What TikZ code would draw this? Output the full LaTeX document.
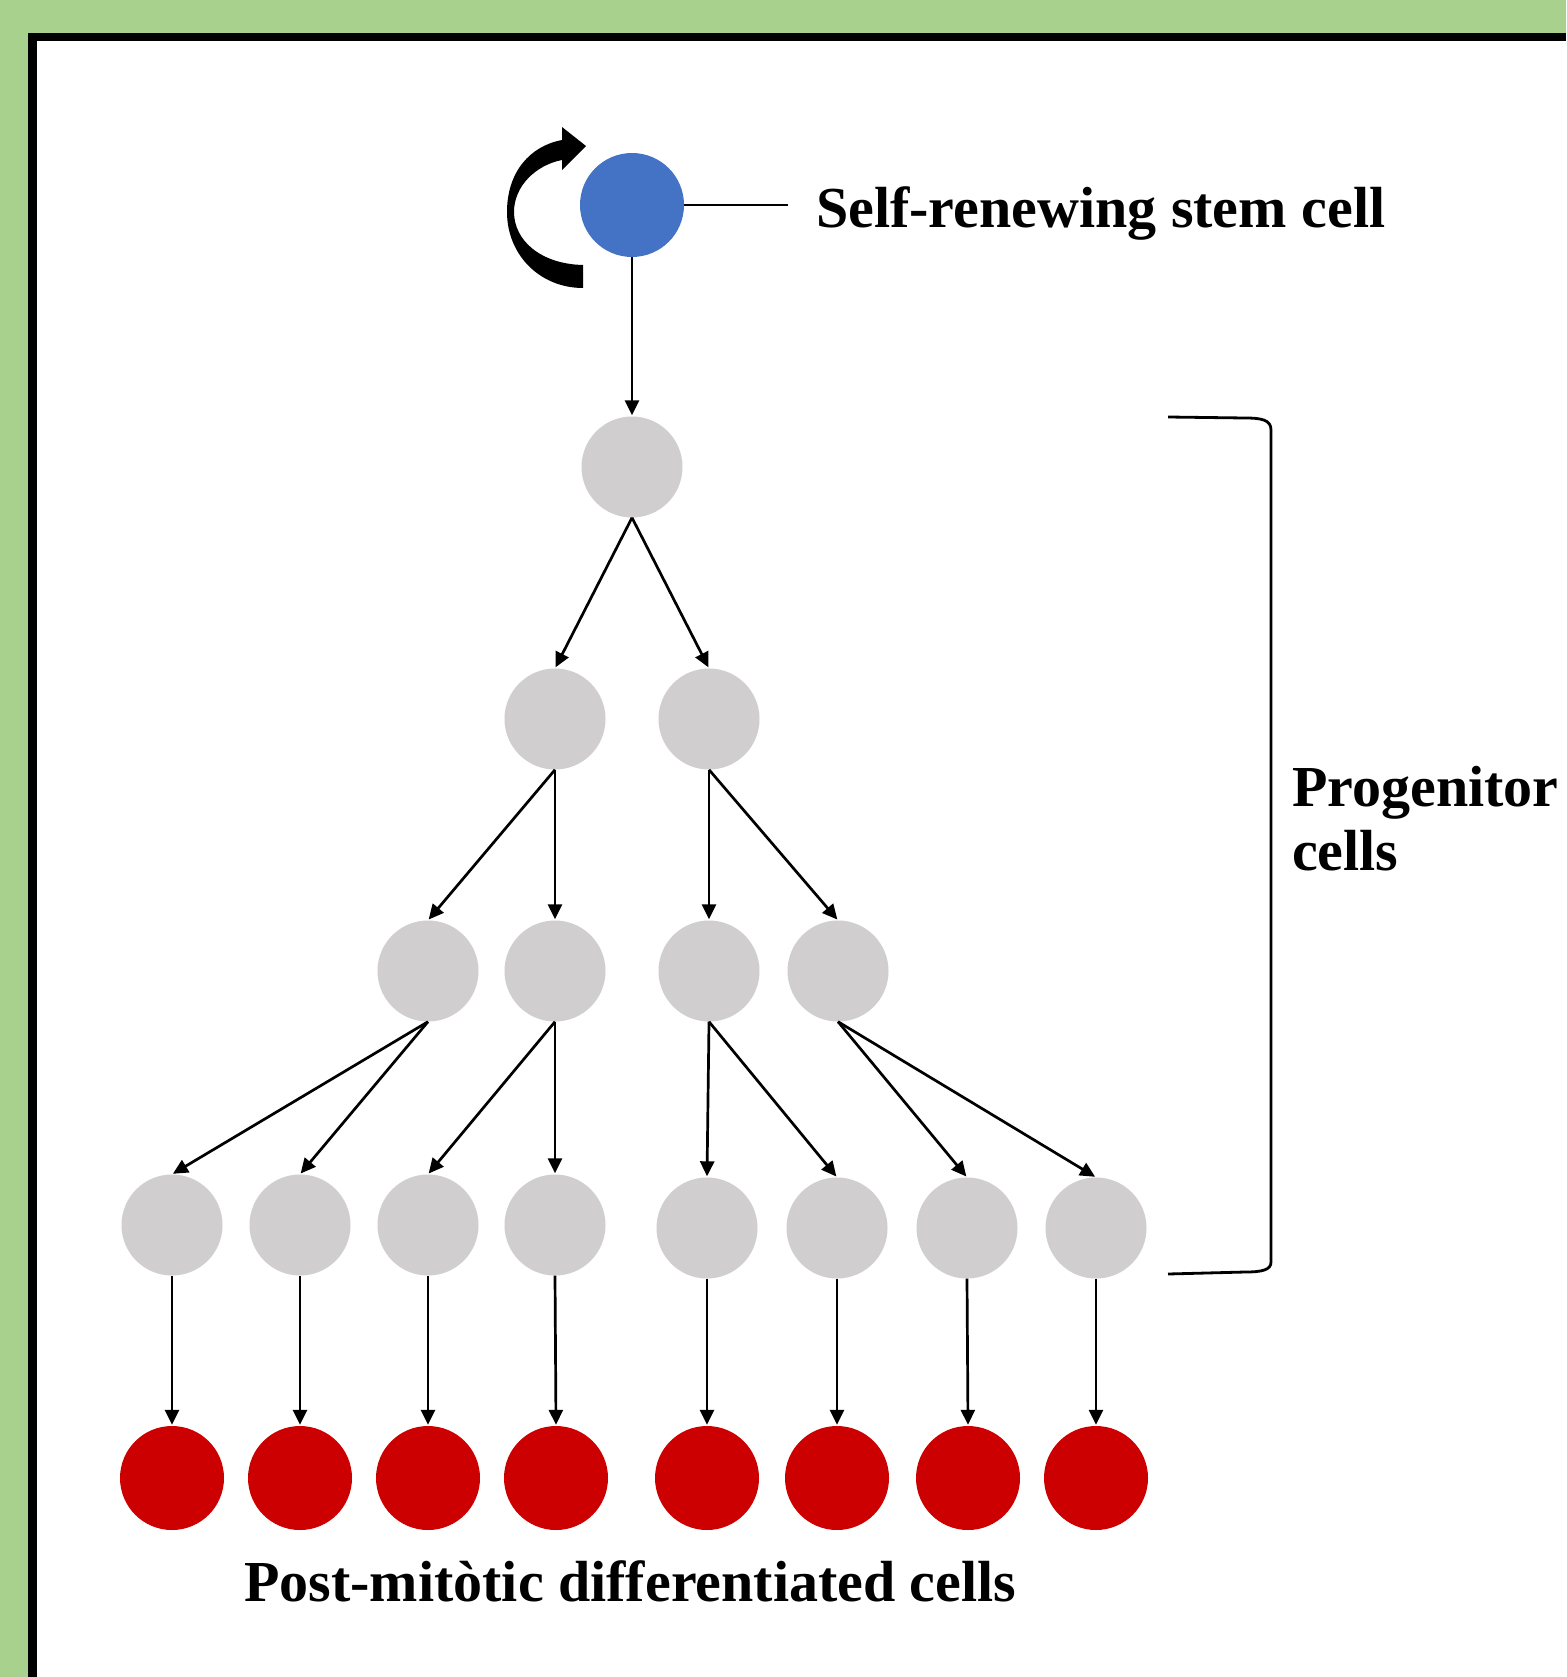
\documentclass[tikz,border=0pt]{standalone}
\usepackage{fontspec}
\setmainfont{Liberation Serif}
\usetikzlibrary{arrows.meta}
\definecolor{bggreen}{HTML}{A9D18E}
\definecolor{stemblue}{HTML}{4472C4}
\definecolor{cellgray}{HTML}{D0CECE}
\definecolor{cellred}{HTML}{CC0000}

\begin{document}
\begin{tikzpicture}[x=1pt,y=-1pt,
  cell/.style={circle,inner sep=0pt,minimum size=101pt},
  prog/.style={cell,fill=cellgray},
  diff/.style={cell,fill=cellred,minimum size=104pt},
  link/.style={line width=2.7pt,-{Triangle[length=15pt,width=14pt]},shorten >=1pt},
  lbl/.style={font=\fontsize{58}{66}\selectfont\bfseries,inner sep=0pt,anchor=base west}]
  \useasboundingbox (0,0) rectangle (1566,1677);
  % background and frame
  \fill[bggreen] (0,0) rectangle (1566,1677);
  \fill[white] (32.5,37) rectangle (1566,1677);
  \draw[line width=8.5pt] (32.5,1677) -- (32.5,37) -- (1566,37);

  % stem cell
  \node[cell,fill=stemblue,minimum size=104pt] (stem) at (632,205) {};
  % progenitor levels
  \node[prog] (p1) at (632,467) {};
  \node[prog] (p2a) at (555,719) {};
  \node[prog] (p2b) at (709,719) {};
  \node[prog] (p3a) at (428,971) {};
  \node[prog] (p3b) at (555,971) {};
  \node[prog] (p3c) at (709,971) {};
  \node[prog] (p3d) at (838,971) {};
  \node[prog] (p4a) at (172,1225) {};
  \node[prog] (p4b) at (300,1225) {};
  \node[prog] (p4c) at (428,1225) {};
  \node[prog] (p4d) at (555,1225) {};
  \node[prog] (p4e) at (707,1228) {};
  \node[prog] (p4f) at (837,1228) {};
  \node[prog] (p4g) at (967,1228) {};
  \node[prog] (p4h) at (1096,1228) {};
  % differentiated cells
  \node[diff] (da) at (172,1478) {};
  \node[diff] (db) at (300,1478) {};
  \node[diff] (dc) at (428,1478) {};
  \node[diff] (dd) at (556,1478) {};
  \node[diff] (de) at (707,1478) {};
  \node[diff] (df) at (837,1478) {};
  \node[diff] (dg) at (968,1478) {};
  \node[diff] (dh) at (1096,1478) {};

  % lineage arrows
  \draw[link] (stem.south) -- (p1.north);
  \draw[link] (p1.south) -- (p2a.north);
  \draw[link] (p1.south) -- (p2b.north);
  \draw[link] (p2a.south) -- (p3a.north);
  \draw[link] (p2a.south) -- (p3b.north);
  \draw[link] (p2b.south) -- (p3c.north);
  \draw[link] (p2b.south) -- (p3d.north);
  \draw[link] (p3a.south) -- (p4a.north);
  \draw[link] (p3a.south) -- (p4b.north);
  \draw[link] (p3b.south) -- (p4c.north);
  \draw[link] (p3b.south) -- (p4d.north);
  \draw[link] (p3c.south) -- (p4e.north);
  \draw[link] (p3c.south) -- (p4f.north);
  \draw[link] (p3d.south) -- (p4g.north);
  \draw[link] (p3d.south) -- (p4h.north);
  \foreach \g/\d in {p4a/da,p4b/db,p4c/dc,p4d/dd,p4e/de,p4f/df,p4g/dg,p4h/dh}
    \draw[link] (\g.south) -- (\d.north);

  % self-renewal curved arrow
  \fill (583,288) .. controls (540,288) and (507,255) .. (507,212)
        .. controls (507,172) and (530,146) .. (562,140)
        -- (562,127) -- (586,146) -- (562,170) -- (562,160)
        .. controls (536,165) and (514,186) .. (514,212)
        .. controls (514,240) and (540,264) .. (583,265) -- cycle;

  % labels
  \coordinate (tick) at (788,205);
  \draw[line width=2.7pt] (stem.east) -- (tick);
  \node[lbl] (stemlbl) at (816,228) {Self-renewing stem cell};
  \node[lbl] (proglbl) at (1292,806) {Progenitor};
  \node[lbl] (proglbltwo) at (1292,870) {cells};
  \node[lbl] (difflbl) at (244,1601) {Post-mitòtic differentiated cells};

  % bracket around progenitor levels
  \draw[line width=2.8pt] (1168,417) -- (1245,418)
        .. controls (1262,418) and (1271,420) .. (1271,430) -- (1271,1262)
        .. controls (1271,1270) and (1262,1272) .. (1245,1272) -- (1168,1274);
\end{tikzpicture}
\end{document}
